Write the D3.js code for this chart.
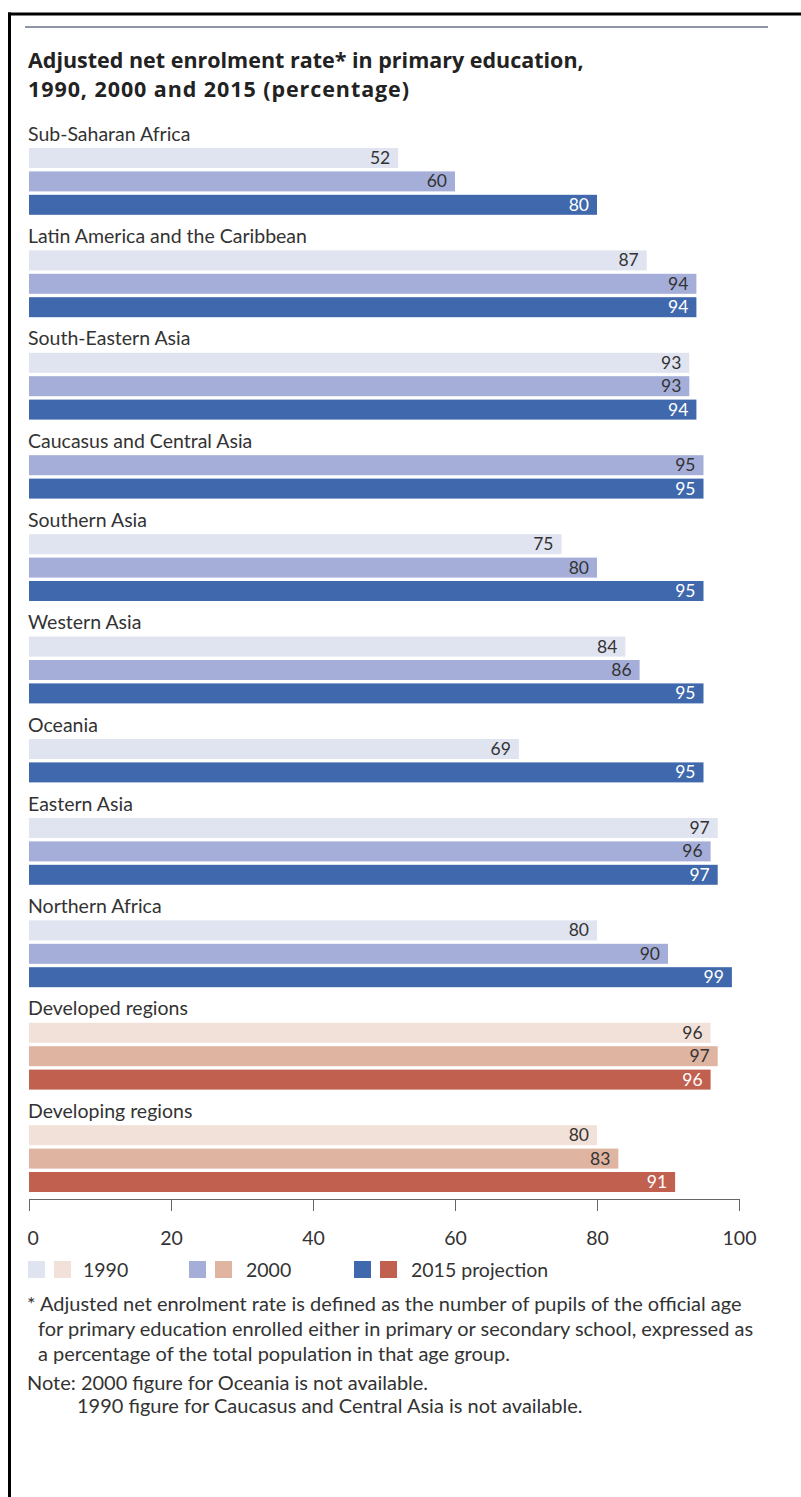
<!DOCTYPE html>
<html>
<head>
<meta charset="utf-8">
<script src="https://cdn.jsdelivr.net/npm/d3@7"></script>
<style>
  body { margin: 0; background: #fff; }
  svg { display: block; font-family: Lato, 'Open Sans', sans-serif; }
</style>
</head>
<body>
<div id="chart"></div>
<script>
// Data
const regions = [
  'Sub-Saharan Africa',
  'Latin America and the Caribbean',
  'South-Eastern Asia',
  'Caucasus and Central Asia',
  'Southern Asia',
  'Western Asia',
  'Oceania',
  'Eastern Asia',
  'Northern Africa',
  'Developed regions',
  'Developing regions'
];
const summaryRegions = ['Developed regions', 'Developing regions'];
const values1990 = [52, 87, 93, null, 75, 84, 69, 97, 80, 96, 80];
const values2000 = [60, 94, 93, 95, 80, 86, null, 96, 90, 97, 83];
const values2015 = [80, 94, 94, 95, 95, 95, 95, 97, 99, 96, 91];
const seriesNames = ['1990', '2000', '2015 projection'];
const xTicks = [0, 20, 40, 60, 80, 100];

const blueColors = ['#e0e3f0', '#a5aed8', '#4068ad'];
const redColors = ['#f2e1d8', '#dfb4a1', '#c1604f'];

const width = 801;
const height = 1497;

// Scale a text's font size so it spans the given width
function fitFontSize(sel, baseSize, targetWidth) {
  const len = sel.node().getComputedTextLength();
  return len > 0 ? baseSize * targetWidth / len : baseSize;
}

const svg = d3.select('#chart')
  .append('svg')
  .attr('width', width)
  .attr('height', height)
  .attr('viewBox', [0, 0, width, height]);

// Frame: black top and left rule, thin grey rule under it
svg.append('rect').attr('x', 8).attr('y', 12.5).attr('width', width - 8).attr('height', 3).attr('fill', '#000');
svg.append('rect').attr('x', 8).attr('y', 12.5).attr('width', 3).attr('height', height - 12.5).attr('fill', '#000');
svg.append('line')
  .attr('x1', 25).attr('x2', 768)
  .attr('y1', 27).attr('y2', 27)
  .attr('stroke', '#8d95a6')
  .attr('stroke-width', 2);

// Title - sized so the first line spans the same width as the original
const title = svg.append('text')
  .attr('x', 28)
  .attr('y', 68)
  .style('font-family', "'Open Sans', Lato, sans-serif")
  .style('font-size', '22px')
  .style('font-weight', 700)
  .style('fill', '#222');
const titleLine1 = title.append('tspan').attr('x', 28).attr('dy', 0).text('Adjusted net enrolment rate* in primary education,');
const titleLine2 = title.append('tspan').attr('x', 28).attr('dy', 29).text('1990, 2000 and 2015 (percentage)');
title.style('font-size', Math.min(24, fitFontSize(titleLine1, 22, 556)) + 'px');
titleLine2.attr('textLength', 381).attr('lengthAdjust', 'spacing');

// Scales
const x = d3.scaleLinear()
  .domain([0, 100])
  .range([29, 739]);

const firstBarTop = 148;
const barStep = 23.4;
const barHeight = 20;
const groupGap = 32.2;

// Build groups with only the available bars
const groups = regions.map((name, i) => {
  const vals = [values1990[i], values2000[i], values2015[i]];
  const bars = vals
    .map((v, s) => ({ series: s, value: v }))
    .filter(d => d.value !== null);
  return { name, bars, summary: summaryRegions.includes(name) };
});

let cursor = firstBarTop;
groups.forEach(g => {
  g.top = cursor;
  cursor += g.bars.length * barStep + groupGap;
});

// Region label size, matched to the width of the longest label
const probe = svg.append('text').style('font-size', '19px').text(regions[1]);
const labelSize = fitFontSize(probe, 19, 279);
probe.remove();

const chart = svg.append('g');

groups.forEach(g => {
  const palette = g.summary ? redColors : blueColors;
  const grp = chart.append('g');

  grp.append('text')
    .attr('x', 28)
    .attr('y', g.top - 7.5)
    .style('font-size', labelSize + 'px')
    .style('fill', '#333')
    .text(g.name);

  const y = d3.scaleBand()
    .domain(g.bars.map(d => d.series))
    .range([g.top, g.top + g.bars.length * barStep])
    .paddingInner(0)
    .paddingOuter(0);

  grp.selectAll('rect')
    .data(g.bars)
    .join('rect')
    .attr('x', x(0))
    .attr('y', d => y(d.series))
    .attr('width', d => x(d.value) - x(0))
    .attr('height', barHeight)
    .attr('fill', d => palette[d.series]);

  grp.selectAll('text.value')
    .data(g.bars)
    .join('text')
    .attr('class', 'value')
    .attr('x', d => x(d.value) - 8)
    .attr('y', d => y(d.series) + 16)
    .attr('text-anchor', 'end')
    .style('font-size', '17.5px')
    .style('fill', d => d.series === 2 ? '#fff' : '#333')
    .text(d => d.value);
});

// X axis
const axisY = 1199;
const xAxis = svg.append('g')
  .attr('transform', `translate(0,${axisY})`)
  .call(d3.axisBottom(x).tickValues(xTicks).tickSize(12).tickSizeOuter(0).tickPadding(20));

xAxis.select('.domain').attr('stroke', '#666');
xAxis.selectAll('.tick line').attr('stroke', '#666');
xAxis.selectAll('.tick text')
  .style('font-size', '19.5px')
  .style('font-family', 'Lato, sans-serif')
  .style('fill', '#333')
  .attr('text-anchor', d => d === 0 ? 'start' : 'middle')
  .attr('dx', d => d === 0 ? -2 : 0);

// Legend
const legendY = 1261;
const legendItems = [
  { label: seriesNames[0], x: 28, textX: 83 },
  { label: seriesNames[1], x: 189, textX: 246 },
  { label: seriesNames[2], x: 354, textX: 411 }
];
legendItems.forEach((item, s) => {
  const lg = svg.append('g');
  lg.append('rect')
    .attr('x', item.x).attr('y', legendY)
    .attr('width', 17).attr('height', 17)
    .attr('fill', blueColors[s]);
  lg.append('rect')
    .attr('x', item.x + 26).attr('y', legendY)
    .attr('width', 17).attr('height', 17)
    .attr('fill', redColors[s]);
  lg.append('text')
    .attr('x', item.textX)
    .attr('y', legendY + 16)
    .style('font-size', '19.5px')
    .style('fill', '#333')
    .text(item.label);
});

// Footnotes
const notes = [
  { text: '* Adjusted net enrolment rate is defined as the number of pupils of the official age', x: 27, y: 1311 },
  { text: 'for primary education enrolled either in primary or secondary school, expressed as', x: 38, y: 1336 },
  { text: 'a percentage of the total population in that age group.', x: 38, y: 1361 },
  { text: 'Note: 2000 figure for Oceania is not available.', x: 27, y: 1390 },
  { text: '1990 figure for Caucasus and Central Asia is not available.', x: 77, y: 1413 }
];
const noteText = svg.append('g')
  .selectAll('text')
  .data(notes)
  .join('text')
  .attr('x', d => d.x)
  .attr('y', d => d.y)
  .style('font-size', '18px')
  .style('fill', '#333')
  .text(d => d.text);
const noteSize = fitFontSize(d3.select(noteText.nodes()[0]), 18, 715);
noteText.style('font-size', noteSize + 'px');
</script>
</body>
</html>
